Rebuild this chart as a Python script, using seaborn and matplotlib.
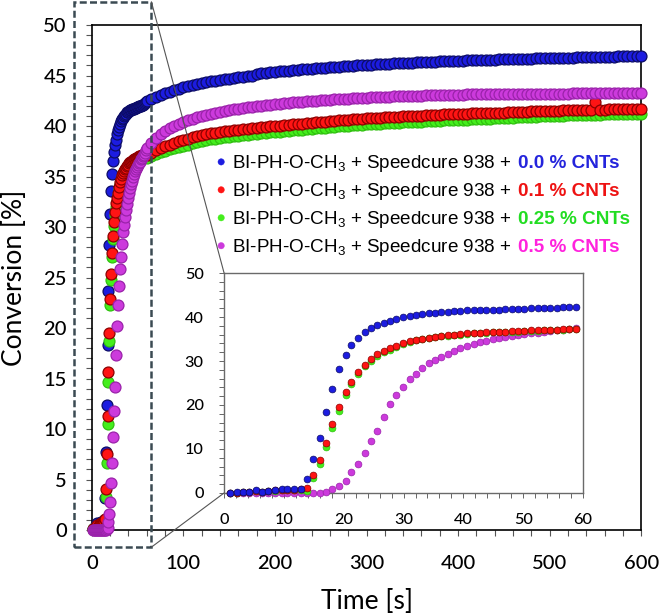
import matplotlib.pyplot as plt
import pandas as pd
import seaborn as sns
from matplotlib.offsetbox import (AnchoredOffsetbox, DrawingArea, HPacker,
                                  TextArea, VPacker)
from matplotlib.patches import Circle, ConnectionPatch, Rectangle
from matplotlib.ticker import MultipleLocator

sns.set_theme(style="ticks")
plt.rcParams["font.family"] = ["Lato", "DejaVu Sans"]
plt.rcParams["font.weight"] = 500
plt.rcParams["mathtext.fontset"] = "custom"
plt.rcParams["mathtext.rm"] = "Liberation Sans"
plt.rcParams["mathtext.it"] = "Liberation Sans"

SAMPLES = ["0.0 % CNTs", "0.1 % CNTs", "0.25 % CNTs", "0.5 % CNTs"]

# early part of the kinetics (inset, also drawn in the main plot)
TIME_INSET = [1.0, 2.1, 3.1, 4.2, 5.3, 6.4, 7.4, 8.5, 9.6, 10.6,
              11.7, 12.8, 13.8, 14.9, 16.0, 17.1, 18.1, 19.2, 20.3, 21.3,
              22.4, 23.5, 24.5, 25.6, 26.7, 27.8, 28.8, 29.9, 31.0, 32.0,
              33.1, 34.2, 35.2, 36.3, 37.4, 38.5, 39.5, 40.6, 41.7, 42.7,
              43.8, 44.9, 45.9, 47.0, 48.1, 49.2, 50.2, 51.3, 52.4, 53.4,
              54.5, 55.6, 56.6, 57.7, 58.8]
BLUE_INSET = [0.1, 0.2, 0.3, 0.3, 0.7, 0.3, 0.5, 0.7, 0.8, 0.8,
              0.8, 1.0, 3.2, 7.7, 12.4, 18.3, 23.7, 28.2, 31.3, 33.6,
              35.2, 36.5, 37.4, 38.1, 38.6, 39.2, 39.6, 39.9, 40.2, 40.45,
              40.7, 40.8, 40.95, 41.1, 41.2, 41.4, 41.4, 41.5, 41.6, 41.6,
              41.7, 41.7, 41.7, 41.8, 41.8, 41.9, 41.9, 42.0, 42.0, 42.0,
              42.1, 42.1, 42.2, 42.3, 42.35]
RED_INSET = [0.1, 0.1, 0.2, 0.3, 0.5, 0.3, 0.4, 0.6, 0.7, 0.7,
             0.7, 0.8, 1.1, 4.1, 7.5, 11.3, 15.6, 19.5, 22.9, 25.3,
             27.4, 29.1, 30.45, 31.5, 32.35, 32.9, 33.4, 34.0, 34.5, 34.8,
             35.1, 35.3, 35.5, 35.7, 35.8, 36.0, 36.1, 36.3, 36.4, 36.4,
             36.5, 36.6, 36.7, 36.7, 36.8, 36.8, 36.9, 37.0, 37.0, 37.05,
             37.1, 37.1, 37.2, 37.3, 37.35]
GREEN_INSET = [0.1, 0.1, 0.2, 0.2, 0.4, 0.3, 0.4, 0.5, 0.6, 0.6,
               0.6, 0.7, 0.5, 3.3, 6.6, 10.5, 14.7, 18.7, 22.3, 24.8,
               27.0, 28.8, 30.1, 31.2, 32.0, 32.6, 33.2, 33.8, 34.3, 34.7,
               35.0, 35.2, 35.4, 35.6, 35.7, 35.9, 36.0, 36.2, 36.3, 36.3,
               36.4, 36.5, 36.6, 36.6, 36.7, 36.7, 36.8, 36.9, 36.9, 36.95,
               37.0, 37.0, 37.1, 37.2, 37.25]
MAGENTA_INSET = [0.0, 0.0, 0.0, 0.0, 0.0, 0.0, 0.0, 0.0, 0.0, 0.0,
                 0.0, 0.0, 0.0, 0.0, 0.1, 0.15, 0.8, 1.6, 2.8, 4.7,
                 6.6, 9.2, 11.8, 14.2, 17.35, 20.2, 22.3, 24.2, 25.8, 27.0,
                 28.3, 29.5, 30.2, 31.0, 31.7, 32.3, 32.9, 33.4, 33.9, 34.3,
                 34.6, 35.0, 35.2, 35.5, 35.7, 35.9, 36.1, 36.3, 36.4, 36.7,
                 36.8, 37.0, 37.1, 37.35, 37.6]

# later part (main plot only)
TIME_LATE = [60, 65, 70, 75, 80, 85, 90, 95, 100, 105,
             110, 115, 120, 125, 130, 135, 140, 145, 150, 155,
             160, 165, 170, 175, 180, 185, 190, 195, 200, 205,
             210, 215, 220, 225, 230, 235, 240, 245, 250, 255,
             260, 265, 270, 275, 280, 285, 290, 295, 300, 305,
             310, 315, 320, 325, 330, 335, 340, 345, 350, 355,
             360, 365, 370, 375, 380, 385, 390, 395, 400, 405,
             410, 415, 420, 425, 430, 435, 440, 445, 450, 455,
             460, 465, 470, 475, 480, 485, 490, 495, 500, 505,
             510, 515, 520, 525, 530, 535, 540, 545, 550, 555,
             560, 565, 570, 575, 580, 585, 590, 595, 600]
BLUE_LATE = [42.5, 42.7, 42.9, 43.1, 43.3, 43.4, 43.6, 43.7, 43.9, 44.0,
             44.1, 44.2, 44.3, 44.4, 44.5, 44.5, 44.6, 44.7, 44.7, 44.8,
             44.9, 44.9, 45.0, 45.0, 45.1, 45.2, 45.2, 45.3, 45.3, 45.4,
             45.4, 45.4, 45.5, 45.5, 45.6, 45.6, 45.6, 45.7, 45.7, 45.7,
             45.8, 45.8, 45.8, 45.9, 45.9, 45.9, 46.0, 46.0, 46.0, 46.0,
             46.1, 46.1, 46.1, 46.1, 46.2, 46.2, 46.2, 46.2, 46.2, 46.3,
             46.3, 46.3, 46.3, 46.3, 46.4, 46.4, 46.4, 46.4, 46.4, 46.4,
             46.5, 46.5, 46.5, 46.5, 46.5, 46.5, 46.5, 46.6, 46.6, 46.6,
             46.6, 46.6, 46.6, 46.6, 46.6, 46.7, 46.7, 46.7, 46.7, 46.7,
             46.7, 46.7, 46.7, 46.7, 46.8, 46.8, 46.8, 46.8, 46.8, 46.8,
             46.8, 46.8, 46.8, 46.9, 46.9, 46.9, 46.9, 46.9, 46.9]
RED_LATE = [37.1, 37.3, 37.6, 37.8, 38.0, 38.1, 38.3, 38.5, 38.6, 38.7,
            38.9, 39.0, 39.1, 39.2, 39.3, 39.3, 39.4, 39.5, 39.5, 39.6,
            39.6, 39.7, 39.7, 39.8, 39.8, 39.9, 39.9, 40.0, 40.0, 40.0,
            40.1, 40.1, 40.2, 40.2, 40.2, 40.3, 40.3, 40.4, 40.4, 40.4,
            40.5, 40.5, 40.6, 40.6, 40.6, 40.7, 40.7, 40.7, 40.8, 40.8,
            40.8, 40.8, 40.9, 40.9, 40.9, 40.9, 41.0, 41.0, 41.0, 41.0,
            41.0, 41.1, 41.1, 41.1, 41.1, 41.2, 41.2, 41.2, 41.2, 41.2,
            41.2, 41.3, 41.3, 41.3, 41.3, 41.3, 41.3, 41.3, 41.3, 41.4,
            41.4, 41.4, 41.4, 41.4, 41.5, 41.5, 41.5, 41.5, 41.5, 41.5,
            41.5, 41.6, 41.6, 41.6, 41.6, 41.6, 41.6, 41.6, 42.4, 41.6,
            41.6, 41.7, 41.7, 41.7, 41.7, 41.7, 41.7, 41.7, 41.7]
GREEN_LATE = [36.8, 37.0, 37.2, 37.4, 37.5, 37.7, 37.8, 37.9, 38.0, 38.1,
              38.3, 38.4, 38.5, 38.6, 38.7, 38.7, 38.8, 38.9, 38.9, 39.0,
              39.0, 39.1, 39.1, 39.2, 39.2, 39.3, 39.3, 39.4, 39.4, 39.4,
              39.5, 39.5, 39.6, 39.6, 39.6, 39.7, 39.7, 39.8, 39.8, 39.8,
              39.9, 39.9, 40.0, 40.0, 40.0, 40.1, 40.1, 40.1, 40.2, 40.2,
              40.2, 40.2, 40.3, 40.3, 40.3, 40.3, 40.4, 40.4, 40.4, 40.4,
              40.4, 40.5, 40.5, 40.5, 40.5, 40.6, 40.6, 40.6, 40.6, 40.6,
              40.6, 40.7, 40.7, 40.7, 40.7, 40.7, 40.8, 40.8, 40.8, 40.8,
              40.8, 40.9, 40.9, 40.9, 40.9, 40.9, 41.0, 41.0, 41.0, 41.0,
              41.0, 41.0, 41.1, 41.1, 41.1, 41.1, 41.1, 41.1, 41.1, 41.1,
              41.2, 41.2, 41.2, 41.2, 41.2, 41.2, 41.2, 41.2, 41.2]
MAGENTA_LATE = [37.8, 38.3, 38.8, 39.2, 39.5, 39.8, 40.0, 40.2, 40.4, 40.6,
                40.7, 40.9, 41.0, 41.1, 41.2, 41.3, 41.4, 41.5, 41.6, 41.7,
                41.7, 41.8, 41.9, 41.9, 42.0, 42.0, 42.1, 42.1, 42.2, 42.2,
                42.3, 42.3, 42.4, 42.4, 42.4, 42.5, 42.5, 42.5, 42.6, 42.6,
                42.6, 42.7, 42.7, 42.7, 42.7, 42.8, 42.8, 42.8, 42.8, 42.9,
                42.9, 42.9, 42.9, 42.9, 43.0, 43.0, 43.0, 43.0, 43.0, 43.0,
                43.0, 43.1, 43.1, 43.1, 43.1, 43.1, 43.1, 43.1, 43.1, 43.1,
                43.2, 43.2, 43.2, 43.2, 43.2, 43.2, 43.2, 43.2, 43.2, 43.2,
                43.2, 43.2, 43.2, 43.2, 43.2, 43.2, 43.2, 43.2, 43.2, 43.2,
                43.2, 43.2, 43.2, 43.3, 43.3, 43.3, 43.3, 43.3, 43.3, 43.3,
                43.3, 43.3, 43.3, 43.3, 43.3, 43.3, 43.3, 43.3, 43.3]

INSET_VALUES = dict(zip(SAMPLES, [BLUE_INSET, RED_INSET, GREEN_INSET, MAGENTA_INSET]))
LATE_VALUES = dict(zip(SAMPLES, [BLUE_LATE, RED_LATE, GREEN_LATE, MAGENTA_LATE]))

FACE = dict(zip(SAMPLES, ["#1c1ce0", "#ff1414", "#44ee1c", "#cc3adc"]))
EDGE = dict(zip(SAMPLES, ["#0c0c66", "#8c0000", "#30c010", "#9a22aa"]))
LABEL_COLOR = dict(zip(SAMPLES, ["#2424dc", "#ee1212", "#22dd22", "#ff22dd"]))

frames = []
for name in SAMPLES:
    frames.append(pd.DataFrame({"time": TIME_INSET, "conversion": INSET_VALUES[name],
                                "sample": name, "part": "early"}))
    frames.append(pd.DataFrame({"time": TIME_LATE, "conversion": LATE_VALUES[name],
                                "sample": name, "part": "late"}))
data = pd.concat(frames, ignore_index=True)

figure = plt.figure(figsize=(6.61, 6.16), dpi=100)
axis = figure.add_axes([0.139, 0.1396, 0.831, 0.8198])
inset = figure.add_axes([0.339, 0.1997, 0.543, 0.3571])

# main plot: magenta on top
for name in [SAMPLES[0], SAMPLES[2], SAMPLES[1], SAMPLES[3]]:
    subset = data[data["sample"] == name]
    sns.scatterplot(data=subset, x="time", y="conversion", color=FACE[name],
                    edgecolor=EDGE[name], linewidth=0.9, s=62, clip_on=False,
                    legend=False, ax=axis, zorder=3)

# inset: blue on top
for name in [SAMPLES[3], SAMPLES[2], SAMPLES[1], SAMPLES[0]]:
    subset = data[(data["sample"] == name) & (data["part"] == "early")]
    sns.scatterplot(data=subset, x="time", y="conversion", color=FACE[name],
                    edgecolor=EDGE[name], linewidth=0.5, s=24, clip_on=False,
                    legend=False, ax=inset, zorder=3)

axis.set_xlim(0, 600)
axis.set_ylim(0, 50)
axis.xaxis.set_major_locator(MultipleLocator(100))
axis.xaxis.set_minor_locator(MultipleLocator(20))
axis.yaxis.set_major_locator(MultipleLocator(5))
axis.yaxis.set_minor_locator(MultipleLocator(1))
axis.tick_params(which="both", direction="out", length=4, width=0.8,
                 color="#555555", labelsize=14.5, labelcolor="black", pad=14)
axis.set_xlabel("Time [s]", fontsize=19, labelpad=12, color="black")
axis.set_ylabel("Conversion [%]", fontsize=19, labelpad=12, color="black")
for spine in axis.spines.values():
    spine.set_color("black")
    spine.set_linewidth(1.2)

inset.set_xlim(0, 60)
inset.set_ylim(0, 50)
inset.xaxis.set_major_locator(MultipleLocator(10))
inset.xaxis.set_minor_locator(MultipleLocator(2))
inset.yaxis.set_major_locator(MultipleLocator(10))
inset.yaxis.set_minor_locator(MultipleLocator(2))
inset.tick_params(which="both", direction="out", length=3.6, width=0.7,
                  color="#666666", labelsize=11.7, labelcolor="black", pad=11)
inset.set_xlabel("")
inset.set_ylabel("")
inset.set_facecolor("white")
for spine in inset.spines.values():
    spine.set_color("#6a6a6a")
    spine.set_linewidth(1.0)

# zoom frame and connectors
axis.add_patch(Rectangle((-20, -1.7), 85, 54, fill=False, edgecolor="#3b4a52",
                         linewidth=1.8, linestyle=(0, (2.8, 1.3)),
                         clip_on=False, zorder=5))
for corner_y, inset_y in [(52.3, 1), (-1.7, 0)]:
    connector = ConnectionPatch(xyA=(65, corner_y), coordsA=axis.transData,
                                xyB=(0, inset_y), coordsB=inset.transAxes,
                                color="#555555", linewidth=0.8)
    figure.add_artist(connector)

# legend with coloured CNT content
rows = []
for name in SAMPLES:
    marker = DrawingArea(6, 9, 0, 0)
    marker.add_artist(Circle((3, 4.4), 2.3, facecolor=FACE[name],
                             edgecolor=FACE[name], linewidth=0.3))
    black_part = TextArea("BI-PH-O-CH$_3$ + Speedcure 938 +",
                          textprops=dict(fontsize=13.6, family="Liberation Sans",
                                         fontweight="normal", color="black"))
    colour_part = TextArea(name, textprops=dict(fontsize=13.6, family="Liberation Sans",
                                                color=LABEL_COLOR[name],
                                                fontweight="bold"))
    rows.append(HPacker(children=[marker, black_part, colour_part],
                        align="baseline", pad=0, sep=4.8))
legend_box = VPacker(children=rows, align="left", pad=0, sep=5)
anchored = AnchoredOffsetbox(loc="upper left", child=legend_box, pad=0, borderpad=0,
                             frameon=False, bbox_to_anchor=(217 / 661, 1 - 153 / 616),
                             bbox_transform=figure.transFigure)
axis.add_artist(anchored)

figure.savefig("out.png", dpi=100)
plt.close()
